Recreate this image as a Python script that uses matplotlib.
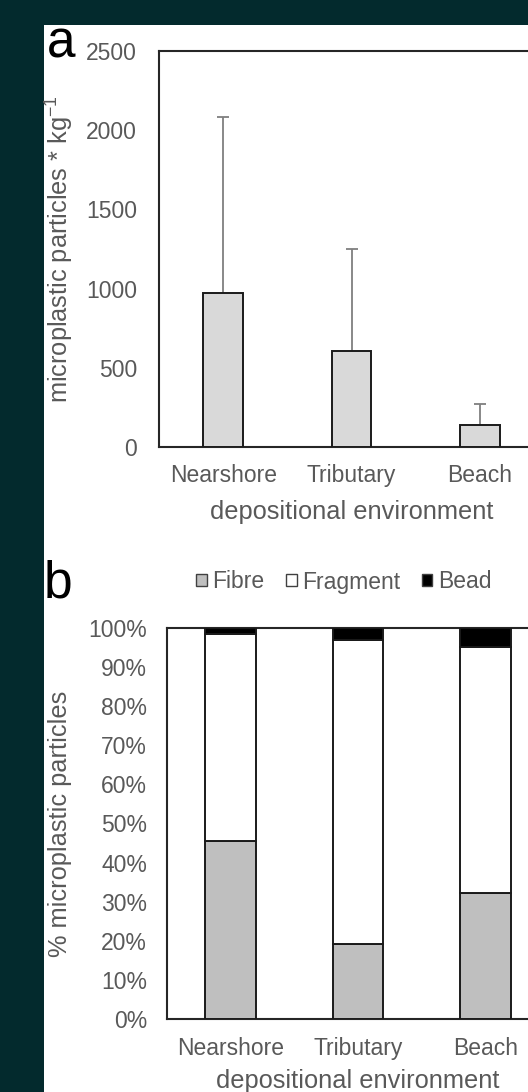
import matplotlib.pyplot as plt
from matplotlib.patches import Rectangle
from matplotlib.ticker import FuncFormatter, MultipleLocator

plt.rcParams['font.family'] = ['Liberation Sans', 'DejaVu Sans']
plt.rcParams['mathtext.fontset'] = 'custom'
plt.rcParams['mathtext.rm'] = 'Liberation Sans'

# data
environments = ['Nearshore', 'Tributary', 'Beach']
mean_conc = [972, 606, 139]          # microplastic particles per kg
sd_conc = [1110, 644, 132]           # upper error bar
fibre_pct = [45.5, 19.2, 32.2]
fragment_pct = [53.0, 77.7, 62.9]
bead_pct = [1.5, 3.1, 4.9]

TEXT = '#595959'
DARK_BG = '#032a2d'
TICK_FS = 16.5
LABEL_FS = 18.3

fig = plt.figure(figsize=(5.28, 10.92), dpi=100, facecolor=DARK_BG)
# white sheet the chart sits on
fig.patches.append(Rectangle((44 / 528, 0), 1, 1 - 25 / 1092, transform=fig.transFigure,
                             facecolor='white', edgecolor='none', zorder=-5))


def style_axes(ax, ypad, xpad):
    ax.set_facecolor('none')
    for s in ax.spines.values():
        s.set_color('#262626')
        s.set_linewidth(1.5)
    ax.tick_params(axis='both', length=0, colors=TEXT, labelsize=TICK_FS)
    ax.tick_params(axis='y', pad=ypad)
    ax.tick_params(axis='x', pad=xpad)
    ax.set_xticks(range(len(environments)))
    ax.set_xticklabels(environments)
    ax.set_xlim(-0.5, len(environments) - 0.5)


# ---- panel a ----
ax_a = fig.add_axes([159 / 528, 1 - 447 / 1092, 385 / 528, 396 / 1092])
x = range(len(environments))
bars_a = ax_a.bar(x, mean_conc, width=0.31, color='#d9d9d9', edgecolor='#1a1a1a', linewidth=1.4,
                  yerr=[[0] * len(sd_conc), sd_conc],
                  error_kw=dict(ecolor='#7f7f7f', elinewidth=1.3, capsize=4.3, capthick=1.3,
                                zorder=2),
                  zorder=3)
# only the upper cap is drawn in the original
bars_a.errorbar.lines[1][0].set_visible(False)
ax_a.set_ylim(0, 2500)
ax_a.yaxis.set_major_locator(MultipleLocator(500))
style_axes(ax_a, ypad=15.8, xpad=12)
ax_a.set_ylabel('microplastic particles * kg$^{-1}$', color=TEXT, fontsize=LABEL_FS)
ax_a.yaxis.set_label_coords((76 - 159) / 385, 0.5)
ax_a.set_xlabel('depositional environment', color=TEXT, fontsize=LABEL_FS, va='top')
ax_a.xaxis.set_label_coords(0.5, -(500 - 447) / 396)
fig.text(47 / 528, 1 - 57 / 1092, 'a', fontsize=37, color='black', ha='left', va='baseline')

# ---- panel b ----
ax_b = fig.add_axes([167 / 528, 1 - 1019 / 1092, 382 / 528, 391 / 1092])
w = 0.4
fb = ax_b.bar(x, fibre_pct, width=w, color='#bfbfbf', edgecolor='#1a1a1a', linewidth=1.4,
              label='Fibre', zorder=3)
bottoms = list(fibre_pct)
fr = ax_b.bar(x, fragment_pct, width=w, bottom=bottoms, color='white', edgecolor='#1a1a1a',
              linewidth=1.4, label='Fragment', zorder=3)
bottoms = [b + f for b, f in zip(bottoms, fragment_pct)]
bd = ax_b.bar(x, bead_pct, width=w, bottom=bottoms, color='black', edgecolor='#1a1a1a',
              linewidth=1.4, label='Bead', zorder=3)
ax_b.set_ylim(0, 100)
ax_b.yaxis.set_major_locator(MultipleLocator(10))
ax_b.yaxis.set_major_formatter(FuncFormatter(lambda v, p: f'{v:.0f}%'))
style_axes(ax_b, ypad=14.4, xpad=13)
ax_b.set_ylabel('% microplastic particles', color=TEXT, fontsize=LABEL_FS)
ax_b.yaxis.set_label_coords((72 - 167) / 382, 0.5)
ax_b.set_xlabel('depositional environment', color=TEXT, fontsize=LABEL_FS, va='top')
ax_b.xaxis.set_label_coords(0.5, -(1069 - 1019) / 391)
fig.text(44 / 528, 1 - 598 / 1092, 'b', fontsize=37, color='black', ha='left', va='baseline')

leg = fig.legend(handles=[fb, fr, bd], loc='center', bbox_to_anchor=(344 / 528, 1 - 582 / 1092),
                 ncol=3, frameon=False, fontsize=TICK_FS, handlelength=0.45, handleheight=0.45,
                 handletextpad=0.25, columnspacing=0.95, borderpad=0)
for t in leg.get_texts():
    t.set_color(TEXT)
for h in leg.legend_handles:
    h.set_linewidth(1.0)
    h.set_edgecolor('#404040')

fig.savefig('out.png', dpi=100, facecolor=DARK_BG)
